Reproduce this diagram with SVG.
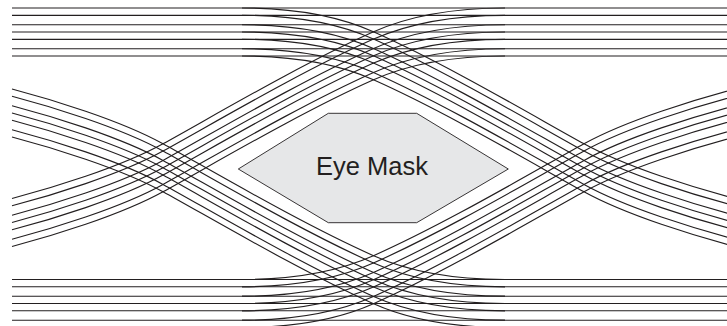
<svg xmlns="http://www.w3.org/2000/svg" xmlns:xlink="http://www.w3.org/1999/xlink" width="727" height="326" viewBox="0 0 727 326">
<style>
  .tr{fill:none;stroke:#231f20;stroke-width:1.15}
  .mask{fill:#e6e7e8;stroke:#231f20;stroke-width:0.9}
  .lbl{font-family:"Liberation Sans",Arial,Helvetica,sans-serif;font-size:25.5px;fill:#231f20;text-anchor:middle}
</style>
<defs>
  <path id="c" d="M12,81 C50,91 120,112 163,135.75 C210,161.5 300,215 373,247.5 C410,264 455,271.5 505,271.5"/>
  <path id="h" d="M12,0 H727"/>
</defs>
<g id="traces" class="tr">
  <g id="high-level">
    <use href="#h" transform="translate(0,8)"/>
    <use href="#h" transform="translate(0,15.3)"/>
    <use href="#h" transform="translate(0,24.7)"/>
    <use href="#h" transform="translate(0,32)"/>
    <use href="#h" transform="translate(0,39.3)"/>
    <use href="#h" transform="translate(0,48.7)"/>
    <use href="#h" transform="translate(0,56)"/>
  </g>
  <g id="low-level">
    <use href="#h" transform="translate(0,279.5)"/>
    <use href="#h" transform="translate(0,286.8)"/>
    <use href="#h" transform="translate(0,296.2)"/>
    <use href="#h" transform="translate(0,303.5)"/>
    <use href="#h" transform="translate(0,310.8)"/>
    <use href="#h" transform="translate(0,320.2)"/>
  </g>
  <g id="left-falling">
    <use href="#c" transform="translate(0,8)"/>
    <use href="#c" transform="translate(0,15.3)"/>
    <use href="#c" transform="translate(0,24.7)"/>
    <use href="#c" transform="translate(0,32)"/>
    <use href="#c" transform="translate(0,39.3)"/>
    <use href="#c" transform="translate(0,48.7)"/>
    <use href="#c" transform="translate(0,56)"/>
  </g>
  <g id="left-rising">
    <use href="#c" transform="translate(0,279.5) scale(1,-1)"/>
    <use href="#c" transform="translate(0,286.8) scale(1,-1)"/>
    <use href="#c" transform="translate(0,296.2) scale(1,-1)"/>
    <use href="#c" transform="translate(0,303.5) scale(1,-1)"/>
    <use href="#c" transform="translate(0,310.8) scale(1,-1)"/>
    <use href="#c" transform="translate(0,320.2) scale(1,-1)"/>
    <use href="#c" transform="translate(0,327.5) scale(1,-1)"/>
  </g>
  <g id="right-falling">
    <use href="#c" transform="translate(747,279.5) scale(-1,-1)"/>
    <use href="#c" transform="translate(747,286.8) scale(-1,-1)"/>
    <use href="#c" transform="translate(747,296.2) scale(-1,-1)"/>
    <use href="#c" transform="translate(747,303.5) scale(-1,-1)"/>
    <use href="#c" transform="translate(747,310.8) scale(-1,-1)"/>
    <use href="#c" transform="translate(747,320.2) scale(-1,-1)"/>
    <use href="#c" transform="translate(747,327.5) scale(-1,-1)"/>
  </g>
  <g id="right-rising">
    <use href="#c" transform="translate(747,8) scale(-1,1)"/>
    <use href="#c" transform="translate(747,15.3) scale(-1,1)"/>
    <use href="#c" transform="translate(747,24.7) scale(-1,1)"/>
    <use href="#c" transform="translate(747,32) scale(-1,1)"/>
    <use href="#c" transform="translate(747,39.3) scale(-1,1)"/>
    <use href="#c" transform="translate(747,48.7) scale(-1,1)"/>
    <use href="#c" transform="translate(747,56) scale(-1,1)"/>
  </g>
</g>
<g id="eye-mask">
  <polygon class="mask" points="238.3,169 328.3,113.3 416.7,113.3 508.3,169 416.7,222.7 328.3,222.7"/>
  <text class="lbl" x="372" y="175">Eye Mask</text>
</g>
</svg>
